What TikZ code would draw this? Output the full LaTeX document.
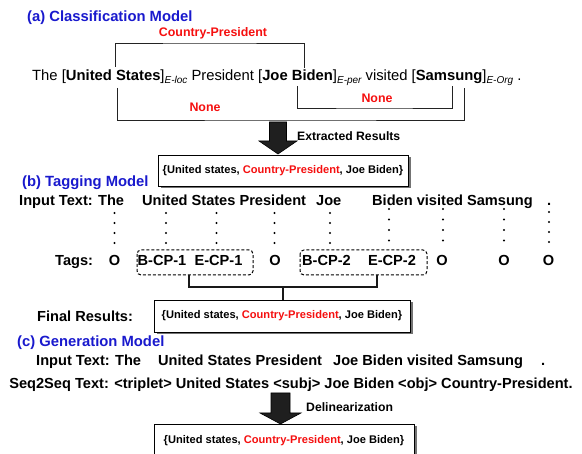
\documentclass[tikz,border=0pt]{standalone}
\usepackage{fontspec}
\setmainfont{Liberation Sans}
\usetikzlibrary{shadows}
\definecolor{tblue}{RGB}{25,25,205}
\definecolor{tred}{RGB}{245,15,15}
\definecolor{lgray}{RGB}{35,35,35}
\newcommand\esub[1]{\raisebox{-3pt}{\fontsize{10}{10}\selectfont\itshape #1}}
\newcommand\restext{\{United states, \textcolor{tred}{Country-President}, Joe Biden\}}
\begin{document}
\begin{tikzpicture}[x=1pt,y=-1pt,
  title/.style={font=\fontsize{14.8}{17}\selectfont\bfseries, text=tblue, anchor=base west, inner sep=0pt},
  lbl/.style={font=\fontsize{14.6}{17}\selectfont\bfseries, anchor=base west, inner sep=0pt},
  tag/.style={font=\fontsize{14.6}{17}\selectfont\bfseries, anchor=base, inner sep=0pt},
  sent/.style={font=\fontsize{14.8}{17}\selectfont, anchor=base west, inner sep=0pt},
  redlbl/.style={font=\fontsize{12.4}{14}\selectfont\bfseries, text=tred, anchor=base, inner sep=0pt},
  note/.style={font=\fontsize{12.2}{14}\selectfont\bfseries, anchor=base west, inner sep=0pt},
  resbox/.style={draw=black, line width=0.9pt, fill=white, inner sep=0pt,
    font=\fontsize{11.1}{13}\selectfont\bfseries,
    general shadow={fill=black!55, shadow xshift=2.5pt, shadow yshift=-2.5pt}},
  brk/.style={draw=lgray, line width=0.9pt},
  tbrk/.style={draw=black!90, line width=2pt},
  dbox/.style={draw=black, line width=1pt, dash pattern=on 3pt off 2pt, rounded corners=4pt},
  blockarrow/.style={fill=black!88, draw=black, line width=0.6pt},
]
\useasboundingbox (0,0) rectangle (582,454);

% ---------- (a) ----------
\node[title] (ta) at (27,22) {(a) Classification Model};
\node[redlbl] (cp) at (213,36.5) {Country-President};
\node[sent] (sent) at (32,81) {The [\textbf{United States}]\esub{E-loc} President [\textbf{Joe Biden}]\esub{E-per} visited [\textbf{Samsung}]\esub{E-Org} .};
\node[redlbl] (none1) at (205,111.5) {None};
\node[redlbl] (none2) at (377,102.5) {None};

\coordinate (t1) at (115,67); \coordinate (t2) at (304,68);
\coordinate (b1) at (117,88); \coordinate (b2) at (464,88);
\coordinate (s1) at (297,86); \coordinate (s2) at (452,86);
\draw[brk] (t1) |- (209.5,43) -| (t2);
\draw[brk] (b1) |- (290,120) -| (b2);
\draw[brk] (s1) |- (374,108) -| (s2);

\draw[blockarrow] (269.5,122) -- (286.5,122) -- (286.5,141) -- (297,141) -- (278,154) -- (259,141) -- (269.5,141) -- cycle;
\node[note] (ext) at (297,141) {Extracted Results};

\node[resbox, minimum width=250pt, minimum height=31pt] (r1) at (283,170.5) {\restext};

% ---------- (b) ----------
\node[title] (tb) at (22,187) {(b) Tagging Model};
\node[lbl] (inb1) at (19,206) {Input Text: The};
\node[lbl] (inb2) at (142,206) {United States President};
\node[lbl] (inb3) at (316,206) {Joe};
\node[lbl] (inb4) at (372,206) {Biden visited Samsung};
\node[lbl] (inb5) at (547,206) {.};

\foreach \x in {114.5,166,216.5,274.5,330}{
  \foreach \y in {213,223,233,243}{ \fill[black] (\x,\y) circle (1.1); }
}
\foreach \x in {389,443,504}{
  \foreach \y in {209,219.5,230,240.5}{ \fill[black] (\x,\y) circle (1.1); }
}
\foreach \y in {212,222,232,242}{ \fill[black] (549,\y) circle (1.1); }

\node[lbl] (tags) at (55,266) {Tags:};
\node[tag] (o1) at (114.5,266) {O};
\node[tag] (bcp1) at (162,266) {B-CP-1};
\node[tag] (ecp1) at (218.5,266) {E-CP-1};
\node[tag] (o2) at (275,266) {O};
\node[tag] (bcp2) at (326.5,266) {B-CP-2};
\node[tag] (ecp2) at (392,266) {E-CP-2};
\node[tag] (o3) at (442,266) {O};
\node[tag] (o4) at (504,266) {O};
\node[tag] (o5) at (548.5,266) {O};

\draw[dbox] (137,250) rectangle (253,275);
\draw[dbox] (300,250) rectangle (427,275);

\node[resbox, minimum width=256pt, minimum height=32pt] (r2) at (282,316) {\restext};
\node[lbl] (fin) at (37,322) {Final Results:};

\coordinate (k1) at (189,275); \coordinate (k2) at (377,275);
\draw[tbrk] (k1) |- (283,287) -| (k2);
\draw[tbrk] (283,287) -- (r2.north -| 283,287);

% ---------- (c) ----------
\node[title] (tc) at (17,347) {(c) Generation Model};
\node[lbl] (inc1) at (36,366) {Input Text: The};
\node[lbl] (inc2) at (158,366) {United States President};
\node[lbl] (inc3) at (333,366) {Joe Biden visited Samsung};
\node[lbl] (inc4) at (541,366) {.};
\node[tag] (seq) at (291,389) {Seq2Seq Text: <triplet> United States <subj> Joe Biden <obj> Country-President.};

\draw[blockarrow] (271,393) -- (290,393) -- (290,413) -- (301,413) -- (280.5,424) -- (260,413) -- (271,413) -- cycle;
\node[note] (delin) at (306,412) {Delinearization};

\node[resbox, minimum width=260pt, minimum height=34pt] (r3) at (284,441) {\restext};
\end{tikzpicture}
\end{document}
